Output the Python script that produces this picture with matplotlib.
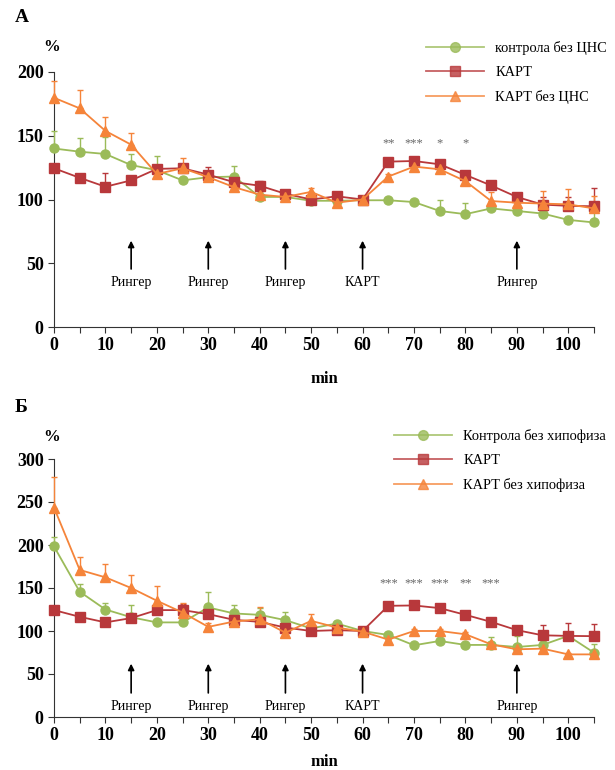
import matplotlib.pyplot as plt
from matplotlib.lines import Line2D

plt.rcParams['font.family'] = ['Liberation Serif', 'DejaVu Serif']

# time points (min)
t = [0, 5, 10, 15, 20, 25, 30, 35, 40, 45, 50, 55, 60, 65, 70, 75, 80, 85, 90, 95, 100, 105]

# panel A
a_ctrl = [140, 137.5, 135.7, 127, 123, 115, 117.5, 118, 102, 102, 99, 99, 99.4, 99.4, 98, 91, 88.5, 93, 91, 89, 84, 82]
a_ctrl_err = [14, 11, 13, 9, 11, 3, 3, 8.5, 2, 2, 2, 2, 1, 2, 2, 9, 9, 3, 2, 3, 3, 12]
a_kart = [124.5, 117, 110, 115, 124, 124.5, 119.5, 113.6, 110.8, 104.5, 100, 102.5, 100, 129.7, 130.2, 127.6, 119.3, 111, 102, 96, 95, 94.7]
a_kart_err = [3, 2, 11, 3, 3, 3, 6, 3, 3.5, 2, 2, 2, 1, 2, 2, 2, 2, 2, 3, 6, 7, 14]
a_kart_cns = [179.8, 171.5, 153.8, 143, 120, 124.5, 117.5, 109.7, 103.8, 102, 106, 97.5, 100, 118, 125.8, 123.7, 114.4, 98.8, 97.5, 96.8, 96.2, 93]
a_kart_cns_err = [13, 14, 11, 9.5, 3, 8, 4, 3, 2, 2, 3, 2, 1, 2, 2, 2, 2, 7, 4, 10, 12, 10]
a_stars = {65: '**', 70: '***', 75: '*', 80: '*'}

# panel B
b_ctrl = [198.3, 145.7, 125, 116, 110, 110, 127.4, 120.4, 118.8, 112.6, 103, 108.7, 100, 95.4, 83.4, 88.4, 83.8, 83.8, 81.4, 83.8, 94.3, 74.8]
b_ctrl_err = [11, 9, 8, 14.5, 3, 3, 18.5, 10, 8, 9, 3, 3, 2, 2, 2, 2, 2, 9, 12.5, 3, 3, 10]
b_kart = [124.3, 116.5, 110, 115, 124.3, 124.3, 119.6, 113, 110.6, 104, 100, 101, 100, 129.3, 129.7, 126.6, 118.8, 110.6, 101, 95, 94.3, 94]
b_kart_err = [2, 2, 2, 2, 2, 7, 4, 3, 3, 2, 2, 2, 1, 2, 2, 2, 2, 2, 2, 12, 14.5, 14.7]
b_kart_hyp = [243.5, 171, 162.4, 150, 135.2, 121.5, 104.8, 111, 113.7, 98, 111.8, 104, 99.3, 90, 100, 100, 96.2, 84.5, 78.7, 79.5, 72.8, 72.8]
b_kart_hyp_err = [35.5, 14.8, 15.6, 15.6, 17.5, 10.5, 4, 3, 14.3, 3, 8, 2, 1, 3, 2, 2, 3, 2, 2, 2, 2, 2]
b_stars = {65: '***', 70: '***', 75: '***', 80: '**', 85: '***'}

arrows = [15, 30, 45, 60, 90]
arrow_txt = ['Рингер', 'Рингер', 'Рингер', 'КАРТ', 'Рингер']

green = '#9bbb59'
red = '#b8383b'
orange = '#f5843a'

fig = plt.figure(figsize=(6.15, 7.7), dpi=100)


def panel(rect, ymax, series, labels, stars, star_y, arr, legend_anchor, pad):
    ax = fig.add_axes(rect)
    styles = [(green, 'o', 6.5), (red, 's', 6.5), (orange, '^', 6.5)]
    handles = []
    for (y, e), (c, m, ms), lab in zip(series, styles, labels):
        ax.errorbar(t, y, yerr=[[0] * len(e), e], color=c, lw=1.3, marker=m,
                    ms=ms, elinewidth=1, capsize=2.5, clip_on=False, zorder=3)
        handles.append(Line2D([0], [0], color=c, lw=1.3, marker=m, ms=7, alpha=0.8))
    for x, s in stars.items():
        ax.text(x, star_y, s, ha='center', va='center', color='#666666', fontsize=9)
    for x, s in zip(arrows, arrow_txt):
        ax.annotate('', xy=(x, arr[1]), xytext=(x, arr[0]),
                    arrowprops=dict(arrowstyle='-|>', color='black', lw=1.2,
                                    mutation_scale=9, shrinkA=0, shrinkB=0))
        ax.text(x, arr[2], s, ha='center', va='center', fontsize=10)
    ax.set_xlim(0, 105)
    ax.set_ylim(0, ymax)
    ax.set_xticks(range(0, 106, 5))
    ax.set_xticklabels([str(v) if v % 10 == 0 else '' for v in range(0, 106, 5)])
    ax.set_yticks(range(0, ymax + 1, 50))
    for s in ['top', 'right']:
        ax.spines[s].set_visible(False)
    for s in ['left', 'bottom']:
        ax.spines[s].set_color('#333333')
    ax.tick_params(labelsize=13, length=4, color='#333333')
    for lbl in ax.get_xticklabels() + ax.get_yticklabels():
        lbl.set_fontweight('bold')
    ax.set_xlabel('min', fontsize=12, fontweight='bold', labelpad=pad)
    fig.legend(handles, labels, loc='upper left', bbox_to_anchor=legend_anchor,
               frameon=False, fontsize=10.4, handlelength=4.0, labelspacing=0.78,
               handletextpad=0.8, borderaxespad=0)
    return ax


panel([54 / 615, 1 - 327 / 770, 540 / 615, 255 / 770], 200,
      [(a_ctrl, a_ctrl_err), (a_kart, a_kart_err), (a_kart_cns, a_kart_cns_err)],
      ['контрола без ЦНС', 'КАРТ', 'КАРТ без ЦНС'],
      a_stars, 144, (45.5, 67.7, 35), (420 / 615, 1 - 35 / 770), 12)
panel([54 / 615, 1 - 717 / 770, 540 / 615, 258 / 770], 300,
      [(b_ctrl, b_ctrl_err), (b_kart, b_kart_err), (b_kart_hyp, b_kart_hyp_err)],
      ['Контрола без хипофиза', 'КАРТ', 'КАРТ без хипофиза'],
      b_stars, 156, (28, 62, 12), (388 / 615, 1 - 423 / 770), 7)

fig.text(15 / 615, 1 - 17 / 770, 'A', fontsize=14, fontweight='bold', va='center')
fig.text(15 / 615, 1 - 408 / 770, 'Б', fontsize=14, fontweight='bold', va='center')
fig.text(52 / 615, 1 - 47 / 770, '%', fontsize=12, fontweight='bold', ha='center', va='center')
fig.text(52 / 615, 1 - 437 / 770, '%', fontsize=12, fontweight='bold', ha='center', va='center')

fig.savefig('out.png', dpi=100)
